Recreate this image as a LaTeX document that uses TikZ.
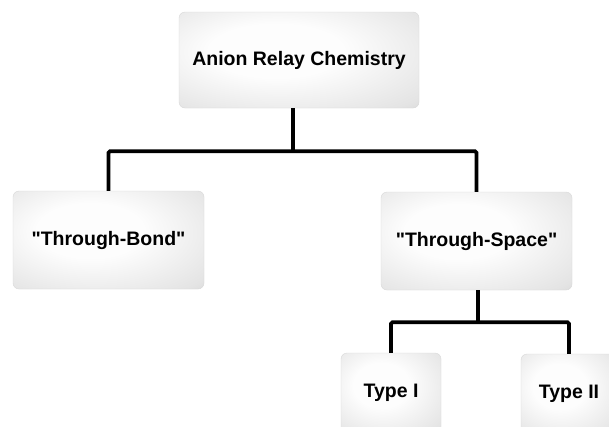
\documentclass[tikz,border=0pt]{standalone}
\usepackage{fontspec}
\setmainfont{Liberation Sans}[Ligatures=TeXOff]
\usepackage{tikz}
\usetikzlibrary{positioning,calc}
\definecolor{boxedge}{RGB}{198,198,198}
\definecolor{boxmid}{RGB}{228,228,228}
\definecolor{boxglow}{RGB}{253,253,253}
\pgfdeclareradialshading{boxshade}{\pgfpoint{-6bp}{6bp}}{%
    color(0bp)=(boxglow); color(14bp)=(boxglow); color(36bp)=(boxmid);
    color(50bp)=(boxedge); color(70bp)=(boxedge)}

\begin{document}
\begin{tikzpicture}[x=1pt, y=-1pt,
    box/.style={rectangle, rounded corners=6pt, shading=boxshade,
        draw=black!15, line width=0.4pt,
        font=\fontsize{19.5}{23}\selectfont\bfseries, align=center},
    link/.style={line width=3.8pt, rounded corners=1.5pt}]
    % Frame
    \clip (0,0) rectangle (609,426);
    \fill[white] (0,0) rectangle (609,426);

    % Boxes
    \node[box, minimum width=240pt, minimum height=96pt] (top) at (299,60) {Anion Relay Chemistry};
    \node[box, minimum width=191pt, minimum height=98pt] (bond) at (108.5,240) {"Through-Bond"};
    \node[box, minimum width=191pt, minimum height=98pt] (space) at (476.5,241) {"Through-Space"};
    \node[box, minimum width=100pt, minimum height=80pt] (typeI) at (391,393) {Type I};
    \node[box, minimum width=96pt, minimum height=80pt] (typeII) at (569,394) {Type II};

    % Tree lines
    \draw[link] ([xshift=-6pt]top.south) -- ++(0,43) coordinate (hubA);
    \draw[link] (bond.north) |- (hubA) -| (space.north);
    \draw[link] ([xshift=1.5pt]space.south) -- ++(0,32) coordinate (hubB);
    \draw[link] (typeI.north) |- (hubB) -| (typeII.north);
\end{tikzpicture}
\end{document}
